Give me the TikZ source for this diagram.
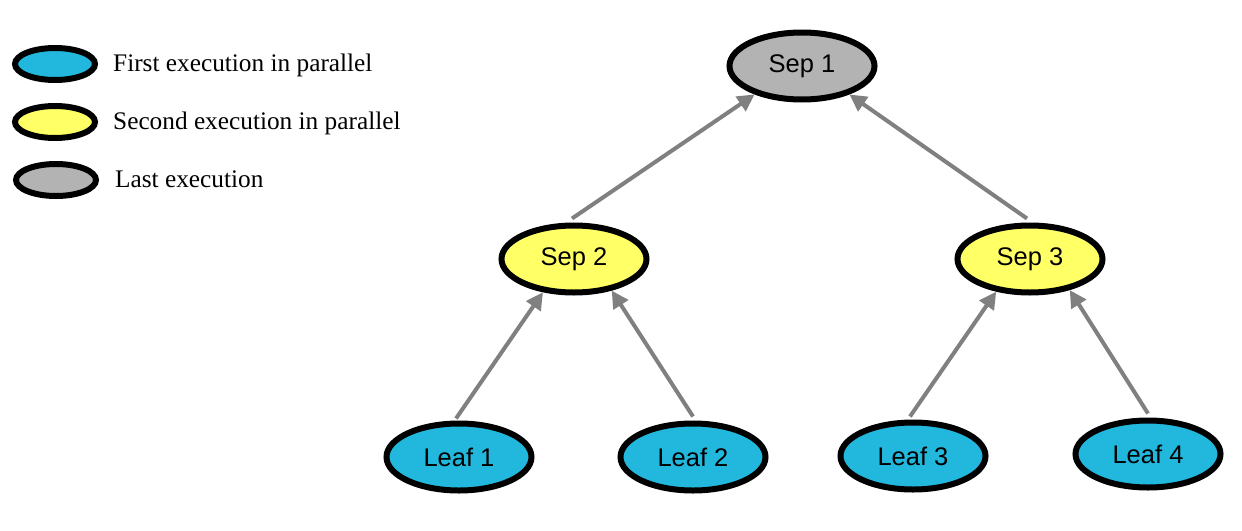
\documentclass[tikz,border=0pt]{standalone}
\usepackage{fontspec}
\setmainfont{Liberation Serif}
\newfontfamily\nodefont{Liberation Sans}
\usetikzlibrary{arrows.meta,shapes.geometric}
\definecolor{cblue}{RGB}{34,183,221}
\definecolor{cyellow}{RGB}{255,255,102}
\definecolor{cgray}{RGB}{179,179,179}
\definecolor{cline}{RGB}{128,128,128}
\tikzset{
  treenode/.style={ellipse,draw=black,line width=6pt,minimum width=145pt,minimum height=67pt,inner sep=0pt,
    font=\nodefont\fontsize{25.5}{30}\selectfont},
  legnode/.style={ellipse,draw=black,line width=6pt,minimum width=80pt,minimum height=32pt,inner sep=0pt},
  legtext/.style={anchor=base west,inner sep=0pt,font=\fontsize{25.3}{30}\selectfont},
  arr/.style={draw=cline,line width=4pt,-{Triangle[length=17pt,width=17pt]}}
}
\begin{document}
\begin{tikzpicture}[x=1pt,y=-1pt]
\useasboundingbox[fill=white] (0,0) rectangle (1242,530);
% legend
\node[legnode,fill=cblue] (lb) at (55,64) {};
\node[legnode,fill=cyellow] (ly) at (55,122) {};
\node[legnode,fill=cgray] (lg) at (56,180) {};
\node[legtext] (tb) at (113,71) {First execution in parallel};
\node[legtext] (ty) at (113,129) {Second execution in parallel};
\node[legtext] (tg) at (115,187) {Last execution};
% tree
\node[treenode,fill=cgray] (sep1) at (802,66) {Sep 1};
\node[treenode,fill=cyellow] (sep2) at (574,259) {Sep 2};
\node[treenode,fill=cyellow] (sep3) at (1030,259) {Sep 3};
\node[treenode,fill=cblue] (leaf1) at (459,457) {Leaf 1};
\node[treenode,fill=cblue] (leaf2) at (693,457) {Leaf 2};
\node[treenode,fill=cblue] (leaf3) at (913,456) {Leaf 3};
\node[treenode,fill=cblue] (leaf4) at (1148,454) {Leaf 4};
% edges
\draw[arr] ([xshift=-2pt,yshift=4pt]sep2.north) -- (sep1.211);
\draw[arr] ([xshift=-3pt,yshift=4pt]sep3.north) -- (sep1.329);
\draw[arr] ([xshift=-3pt,yshift=2pt]leaf1.north) -- (sep2.227);
\draw[arr] ([yshift=4pt]leaf2.north) -- (sep2.320);
\draw[arr] ([xshift=-3pt,yshift=3pt]leaf3.north) -- (sep3.224);
\draw[arr] ([yshift=4pt]leaf4.north) -- (sep3.322);
\end{tikzpicture}
\end{document}
